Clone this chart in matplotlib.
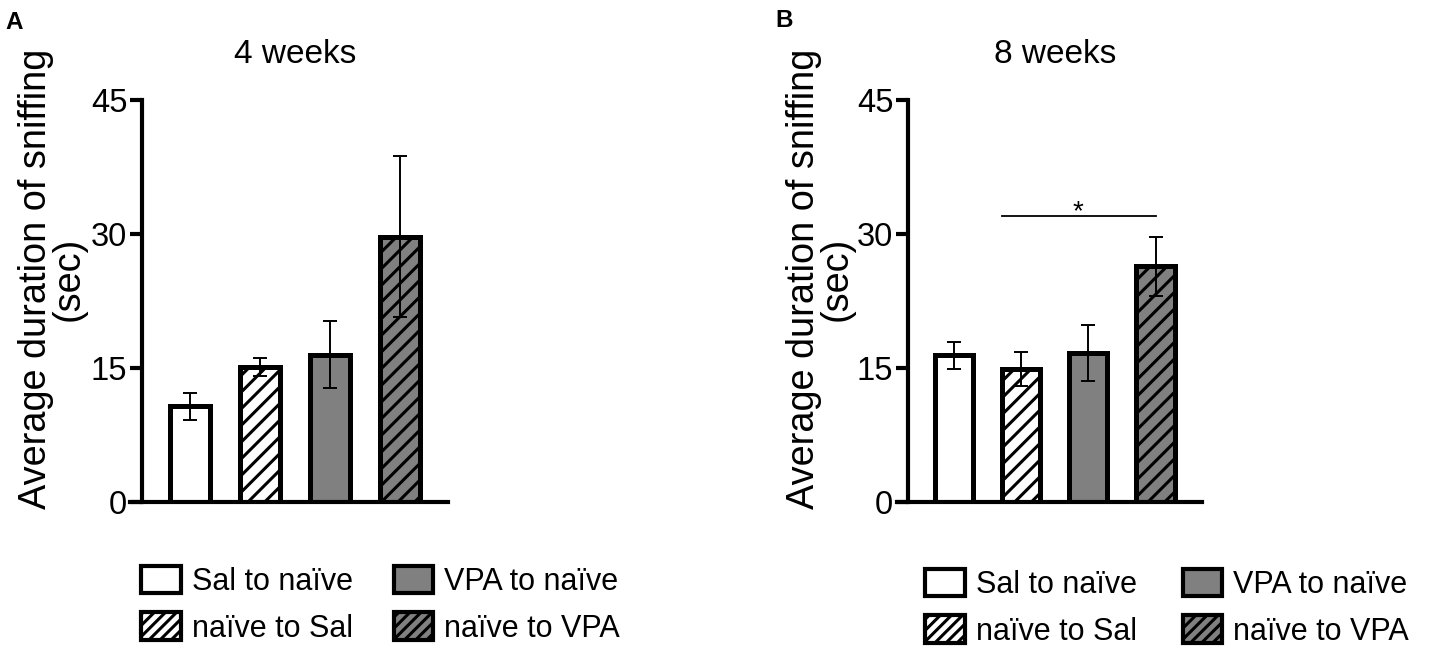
import matplotlib
matplotlib.use("Agg")
import matplotlib.pyplot as plt
from matplotlib.patches import Patch

# data (mean +/- SEM, seconds)
groups = ["Sal to naïve", "naïve to Sal", "VPA to naïve", "naïve to VPA"]
means_4wk = [10.7, 15.1, 16.5, 29.7]
sem_4wk = [1.5, 1.0, 3.75, 9.0]
means_8wk = [16.4, 14.9, 16.7, 26.4]
sem_8wk = [1.5, 1.9, 3.1, 3.3]
yticks = [0, 15, 30, 45]

# significance bracket for 8 weeks (naïve to Sal vs naïve to VPA)
sig_pair = (1, 3)
sig_level = 32.0

fills = ["white", "white", "#808080", "#808080"]
hatches = [None, "//", None, "//"]

FONT = ["Liberation Sans", "DejaVu Sans"]

plt.rcParams["hatch.linewidth"] = 2.2
plt.rcParams["font.family"] = FONT

fig = plt.figure(figsize=(14.47, 6.54), dpi=100)
W, H = 1447, 654


def px_axes(left, right, top=100, bottom=502):
    return [left / W, 1 - bottom / H, (right - left) / W, (bottom - top) / H]


def draw_panel(ax, means, sems, title):
    x = list(range(len(means)))
    for xi, m, f, h in zip(x, means, fills, hatches):
        ax.bar(xi, m, width=0.57, color=f, edgecolor="black",
               linewidth=3.6, hatch=h, zorder=2)
    ax.errorbar(x, means, yerr=sems, fmt="none", ecolor="black",
                elinewidth=1.4, capsize=5, capthick=1.4, zorder=3)
    ax.set_xlim(-0.68, 3.69)
    ax.set_ylim(0, 45)
    ax.set_xticks([])
    ax.set_yticks(yticks)
    ax.set_yticklabels([str(t) for t in yticks], fontsize=23.5)
    ax.tick_params(axis="y", length=8.6, width=3, pad=2)
    for s in ("top", "right"):
        ax.spines[s].set_visible(False)
    for s in ("left", "bottom"):
        ax.spines[s].set_linewidth(3)
    ax.spines["bottom"].set_bounds(-0.85, 3.69)
    ax.set_ylabel("Average duration of sniffing\n(sec)", fontsize=27.3,
                  linespacing=0.9)
    ax.yaxis.set_label_coords(-0.18, 0.556)
    ax.set_title(title, fontsize=24, y=1.112, pad=0, va="center")


axA = fig.add_axes(px_axes(142, 448))
axB = fig.add_axes(px_axes(908, 1202))
draw_panel(axA, means_4wk, sem_4wk, "4 weeks")
draw_panel(axB, means_8wk, sem_8wk, "8 weeks")

# significance line + star
axB.plot([sig_pair[0] - 0.28, sig_pair[1]], [sig_level, sig_level],
         color="black", linewidth=1.3)
axB.text(1.84, 31.7, "*", ha="center", va="baseline", fontsize=20)

# panel letters
fig.text(5 / W, 1 - 11 / H, "A", fontsize=17.5, fontweight="bold", va="top")
fig.text(775 / W, 1 - 9 / H, "B", fontsize=17.5, fontweight="bold", va="top")

# legends
handles = []
for f, h in zip(fills, hatches):
    p = Patch(facecolor=f, edgecolor="black", linewidth=3.0,
              hatch=h and "///")
    if h and hasattr(p, "set_hatch_linewidth"):
        p.set_hatch_linewidth(1.4)
    handles.append(p)
leg_kw = dict(loc="upper left", ncol=2, frameon=False, fontsize=22,
              handlelength=1.3, handleheight=1.0, handletextpad=0.36,
              labelspacing=0.5, borderpad=0, borderaxespad=0)
fig.legend(handles, groups, bbox_to_anchor=(141 / W, 1 - 566 / H),
           columnspacing=1.34, **leg_kw)
fig.legend(handles, groups, bbox_to_anchor=(925 / W, 1 - 569 / H),
           columnspacing=1.5, **leg_kw)

fig.savefig("out.png", dpi=100)
